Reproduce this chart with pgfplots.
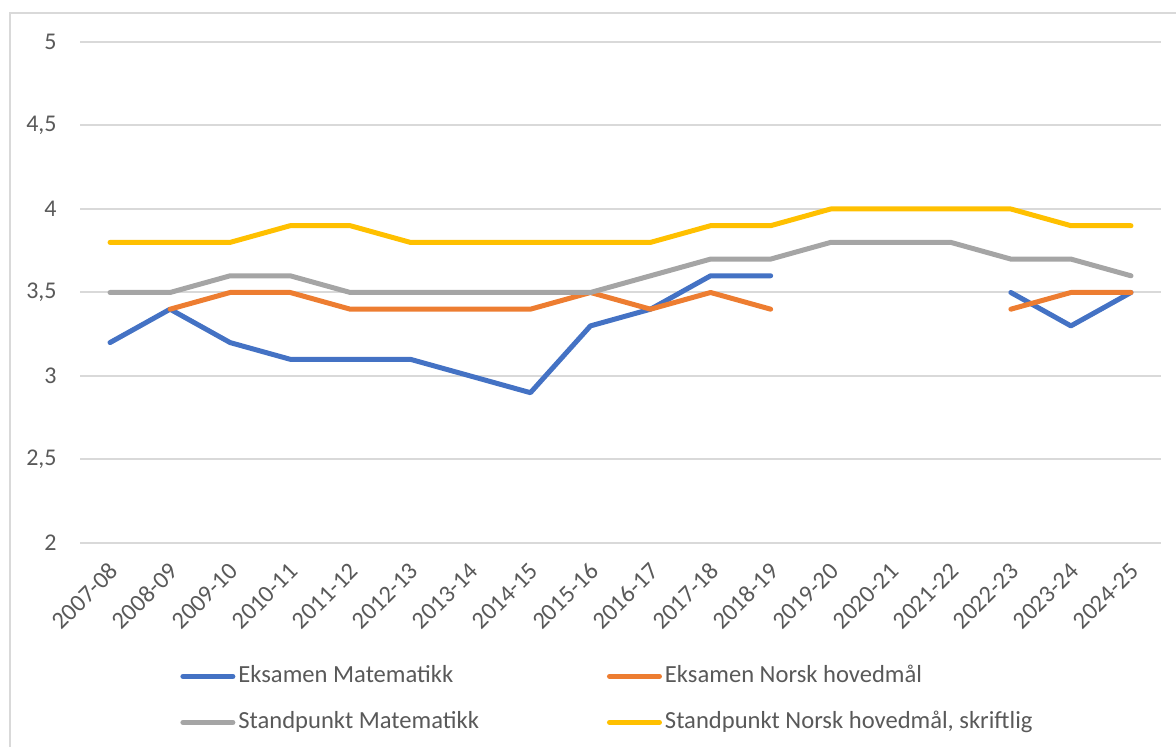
\documentclass[border=0pt]{standalone}
\usepackage{pgfplots}
\pgfplotsset{compat=1.18}
\usepackage{fontspec}
\setmainfont{Carlito}
\definecolor{cblue}{HTML}{4472C4}
\definecolor{corange}{HTML}{ED7D31}
\definecolor{cgray}{HTML}{A5A5A5}
\definecolor{cyellow}{HTML}{FFC000}
\definecolor{cgrid}{HTML}{D9D9D9}
\definecolor{ctext}{HTML}{595959}
\begin{document}
\begin{tikzpicture}[x=1pt,y=1pt]
\useasboundingbox (0,0) rectangle (588,373.5);
\draw[cgrid, line width=1pt] (5,0) -- (5,367) -- (588,367);
\begin{axis}[
  at={(40pt,102pt)}, anchor=south west,
  scale only axis, width=540.5pt, height=250.5pt,
  xmin=-0.5, xmax=17.5, ymin=2, ymax=5,
  ytick={2,2.5,3,3.5,4,4.5,5},
  xtick={0,...,17},
  xticklabels={2007-08,2008-09,2009-10,2010-11,2011-12,2012-13,2013-14,2014-15,2015-16,2016-17,2017-18,2018-19,2019-20,2020-21,2021-22,2022-23,2023-24,2024-25},
  /pgf/number format/assume math mode=true,
  /pgf/number format/use comma,
  axis line style={draw=none},
  major tick length=0pt,
  ymajorgrids, major grid style={cgrid, line width=1pt},
  yticklabel style={font=\fontsize{12}{14}\selectfont, text=ctext, anchor=east, inner sep=0pt, xshift=-11.5pt},
  xticklabel style={font=\fontsize{12.2}{14}\selectfont, text=ctext, inner sep=0pt, xshift=2pt, yshift=-12pt, rotate=45, anchor=east},
  clip=false,
  unbounded coords=jump,
  every axis plot/.append style={line width=2.5pt, line cap=round, line join=round, no markers},
  legend columns=2,
  legend cell align=left,
  legend image code/.code={\draw[#1, line width=2.5pt, line cap=round] (0pt,0pt) -- (25pt,0pt);},
  legend style={draw=none, fill=none, inner sep=0pt, at={(axis description cs:0.0925,-0.2425)}, anchor=north west,
    font=\fontsize{12.3}{14}\selectfont, text=ctext,
    nodes={inner xsep=1.5pt, inner ysep=0pt, text height=9pt, text depth=2.5pt},
    row sep=11.5pt,
    /tikz/every even column/.append style={column sep=62.5pt}},
]
\addplot[cblue] coordinates {(0,3.2) (1,3.4) (2,3.2) (3,3.1) (4,3.1) (5,3.1) (6,3.0) (7,2.9) (8,3.3) (9,3.4) (10,3.6) (11,3.6) (12,nan) (13,nan) (14,nan) (15,3.5) (16,3.3) (17,3.5)};
\addlegendentry{Eksamen Matematikk}
\addplot[corange] coordinates {(0,nan) (1,3.4) (2,3.5) (3,3.5) (4,3.4) (5,3.4) (6,3.4) (7,3.4) (8,3.5) (9,3.4) (10,3.5) (11,3.4) (12,nan) (13,nan) (14,nan) (15,3.4) (16,3.5) (17,3.5)};
\addlegendentry{Eksamen Norsk hovedmål}
\addplot[cgray] coordinates {(0,3.5) (1,3.5) (2,3.6) (3,3.6) (4,3.5) (5,3.5) (6,3.5) (7,3.5) (8,3.5) (9,3.6) (10,3.7) (11,3.7) (12,3.8) (13,3.8) (14,3.8) (15,3.7) (16,3.7) (17,3.6)};
\addlegendentry{Standpunkt Matematikk}
\addplot[cyellow] coordinates {(0,3.8) (1,3.8) (2,3.8) (3,3.9) (4,3.9) (5,3.8) (6,3.8) (7,3.8) (8,3.8) (9,3.8) (10,3.9) (11,3.9) (12,4.0) (13,4.0) (14,4.0) (15,4.0) (16,3.9) (17,3.9)};
\addlegendentry{Standpunkt Norsk hovedmål, skriftlig}
\end{axis}
\end{tikzpicture}
\end{document}
